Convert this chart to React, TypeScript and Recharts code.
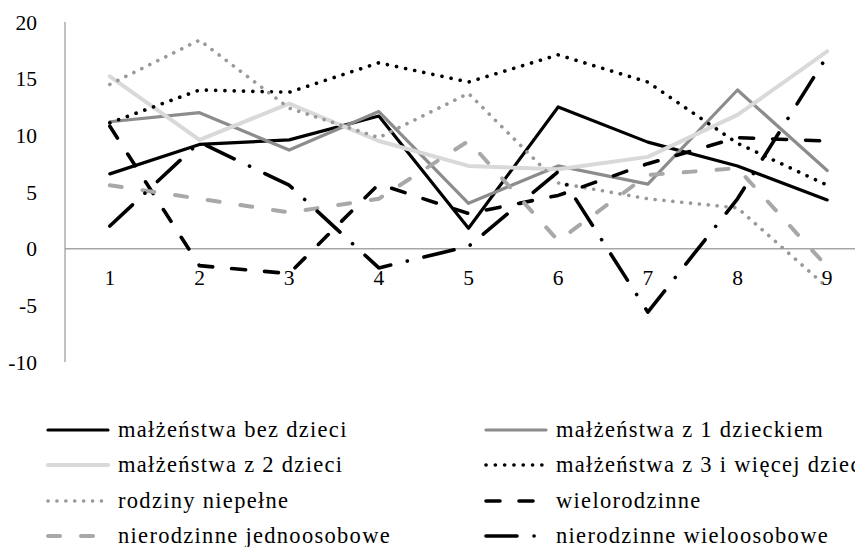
import React from "react";
import { LineChart, Line, XAxis, YAxis, ReferenceLine } from "recharts";

const categories = ["1", "2", "3", "4", "5", "6", "7", "8", "9"];

const bezDzieci = [6.6, 9.2, 9.6, 11.7, 1.8, 12.5, 9.4, 7.3, 4.3];
const z1Dzieckiem = [11.2, 12.0, 8.7, 12.1, 4.0, 7.3, 5.7, 14.0, 6.9];
const z2Dzieci = [15.2, 9.6, 12.8, 9.5, 7.3, 7.0, 8.1, 11.8, 17.4];
const z3Dzieci = [11.1, 14.0, 13.8, 16.4, 14.7, 17.1, 14.7, 9.3, 5.6];
const niepelne = [14.5, 18.4, 12.4, 9.8, 13.7, 5.8, 4.4, 3.6, -3.4];
const wielorodzinne = [10.8, -1.5, -2.2, 5.7, 3.1, 4.7, 7.5, 9.8, 9.5];
const jednoosobowe = [5.6, 4.4, 3.2, 4.4, 9.5, 0.7, 6.5, 7.1, -1.6];
const wieloosobowe = [2.0, 9.4, 5.6, -1.7, 0.2, 6.8, -5.6, 4.4, 17.0];

const yTicks = [-10, -5, 0, 5, 10, 15, 20];

const seriesNames = [
  "małżeństwa bez dzieci",
  "małżeństwa z 1 dzieckiem",
  "małżeństwa z 2 dzieci",
  "małżeństwa z 3 i więcej dzieci",
  "rodziny niepełne",
  "wielorodzinne",
  "nierodzinne jednoosobowe",
  "nierodzinne wieloosobowe",
];
const seriesValues = [
  bezDzieci,
  z1Dzieckiem,
  z2Dzieci,
  z3Dzieci,
  niepelne,
  wielorodzinne,
  jednoosobowe,
  wieloosobowe,
];

// line look for each series, same order as the names
const styles = [
  { stroke: "#000000", width: 3.2, dash: undefined },
  { stroke: "#8c8c8c", width: 3.2, dash: undefined },
  { stroke: "#d9d9d9", width: 4, dash: undefined },
  { stroke: "#000000", width: 3.6, dash: "0.1 9.2" },
  { stroke: "#999999", width: 3.6, dash: "0.1 8.8" },
  { stroke: "#000000", width: 3.6, dash: "14 19" },
  { stroke: "#a8a8a8", width: 4, dash: "12 21" },
  { stroke: "#000000", width: 3.6, dash: "31 17 0.1 17" },
];

const data = categories.map((name, i) => {
  const row: Record<string, string | number> = { name };
  seriesNames.forEach((s, k) => {
    row[s] = seriesValues[k][i];
  });
  return row;
});

const font = '"Liberation Serif", "Times New Roman", serif';

const XTick = (props: any) => {
  const { x, y, payload } = props;
  return (
    <text
      x={x}
      y={y - 77}
      textAnchor="middle"
      fontFamily={font}
      fontSize={21.5}
      fill="#000"
    >
      {payload.value}
    </text>
  );
};

export default function App() {
  return (
    <div
      style={{
        position: "relative",
        width: 855,
        height: 539,
        overflow: "hidden",
        background: "#fff",
      }}
    >
      <LineChart
        width={880}
        height={380}
        data={data}
        margin={{ top: 14, right: 16, left: 0, bottom: 0 }}
      >
        <XAxis
          dataKey="name"
          scale="band"
          axisLine={false}
          tickLine={false}
          tickSize={0}
          tickMargin={0}
          height={26}
          tick={<XTick />}
          interval={0}
        />
        <YAxis
          domain={[-10, 20]}
          ticks={yTicks}
          width={57}
          axisLine={{ stroke: "#999", strokeWidth: 1.2 }}
          tickLine={false}
          tickMargin={22}
          tick={{ fill: "#000", fontSize: 21.5, fontFamily: font }}
        />
        <ReferenceLine y={0} stroke="#a6a6a6" strokeWidth={1.5} />
        {seriesNames.map((s, k) => (
          <Line
            key={s}
            dataKey={s}
            type="linear"
            stroke={styles[k].stroke}
            strokeWidth={styles[k].width}
            strokeDasharray={styles[k].dash}
            strokeLinecap="round"
            strokeLinejoin="round"
            dot={false}
            activeDot={false}
            isAnimationActive={false}
          />
        ))}
      </LineChart>
      <div
        style={{
          position: "absolute",
          left: 38,
          top: 404,
          display: "grid",
          gridTemplateColumns: "438px 420px",
          fontFamily: font,
          fontSize: 22.5,
          letterSpacing: "1.3px",
          whiteSpace: "nowrap",
        }}
      >
        {seriesNames.map((s, k) => (
          <div
            key={s}
            style={{ display: "flex", alignItems: "center", height: 35.5 }}
          >
            <svg width={64} height={10} style={{ flex: "none" }}>
              <line
                x1={2}
                x2={62}
                y1={5}
                y2={5}
                stroke={styles[k].stroke}
                strokeWidth={styles[k].width}
                strokeDasharray={styles[k].dash}
                strokeLinecap="round"
              />
            </svg>
            <span style={{ marginLeft: 8 }}>{s}</span>
          </div>
        ))}
      </div>
    </div>
  );
}
